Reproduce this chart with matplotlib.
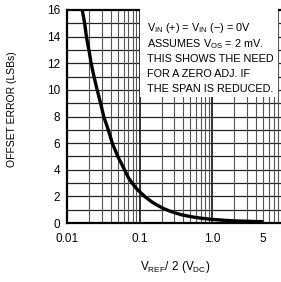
import matplotlib
matplotlib.use("Agg")
import matplotlib.pyplot as plt
from matplotlib.patches import Rectangle
import numpy as np

# Data
vref_half = [0.0162, 0.0175, 0.0185, 0.02, 0.0215, 0.0235, 0.026, 0.029, 0.032,
             0.037, 0.042, 0.05, 0.062, 0.07, 0.08, 0.09, 0.1, 0.12, 0.15,
             0.18, 0.21, 0.25, 0.3, 0.37, 0.46, 0.57, 0.7, 0.85, 1.0, 1.5,
             2.0, 3.0, 4.0, 5.0]
offset_err = [16, 15, 14, 13, 12, 11, 10, 9, 8,
              7, 6, 5, 4, 3.4, 2.95, 2.6, 2.35, 1.95, 1.55,
              1.3, 1.1, 0.93, 0.78, 0.63, 0.52, 0.43, 0.36, 0.31, 0.27, 0.2,
              0.16, 0.13, 0.11, 0.1]
xtick_vals = [0.01, 0.1, 1.0, 5]
xtick_labels = ["0.01", "0.1", "1.0", "5"]
ytick_vals = [0, 2, 4, 6, 8, 10, 12, 14, 16]
note_lines = [r"V$_{\rm IN}$ (+) = V$_{\rm IN}$ ($-$) = 0V",
              r"ASSUMES V$_{\rm OS}$ = 2 mV.",
              "THIS SHOWS THE NEED",
              "FOR A ZERO ADJ. IF",
              "THE SPAN IS REDUCED."]

plt.rcParams['font.family'] = ['Liberation Sans', 'DejaVu Sans']
plt.rcParams['mathtext.fontset'] = 'custom'
plt.rcParams['mathtext.rm'] = 'Liberation Sans'
plt.rcParams['mathtext.it'] = 'Liberation Sans'

W, H = 281, 282
fig = plt.figure(figsize=(W / 100, H / 100), dpi=100)
L, R, T, B = 67, 285, 10, 223
ax = fig.add_axes([L / W, (H - B) / H, (R - L) / W, (B - T) / H])

ax.set_xscale('log')
ax.set_xlim(0.01, 10)
ax.set_ylim(0, 16)

ax.set_yticks(ytick_vals)
ax.set_xticks(xtick_vals)
ax.set_xticklabels(xtick_labels)
ax.xaxis.set_minor_locator(matplotlib.ticker.NullLocator())

for yv in np.arange(1, 16, 1):
    ax.axhline(yv, color='#222222', lw=0.9, zorder=1)
for dec in [0.01, 0.1, 1.0]:
    for m in range(2, 10):
        ax.axvline(dec * m, color='#555555', lw=0.8, zorder=1)
for xv in [0.1, 1.0]:
    ax.axvline(xv, color='#222222', lw=1.3, zorder=1)

ax.tick_params(which='both', length=0)
ax.tick_params(axis='y', labelsize=8.5, pad=5)
ax.tick_params(axis='x', labelsize=8.5, pad=7)

for s in ['left', 'bottom', 'top']:
    ax.spines[s].set_linewidth(1.6)
ax.spines['right'].set_visible(False)

ax.plot(vref_half, offset_err, color='black', lw=2.4, zorder=3,
        solid_capstyle='butt', solid_joinstyle='round')

# note box
ax.add_patch(Rectangle(((140 - L) / (R - L), (B - 97) / (B - T)),
                       (278 - 140) / (R - L), (97 - T) / (B - T) + 0.01,
                       transform=ax.transAxes, facecolor='white',
                       edgecolor='none', zorder=4, clip_on=False))
baselines = [31, 47, 62, 77, 92]
for txt, yb in zip(note_lines, baselines):
    ax.text((147 - L) / (R - L), (B - yb) / (B - T), txt,
            transform=ax.transAxes, fontsize=7.8, ha='left', va='baseline',
            zorder=5)

ax.set_ylabel("OFFSET ERROR (LSBs)", fontsize=7.5)
ax.yaxis.set_label_coords((17 - L) / (R - L), (B - 109) / (B - T))
ax.set_xlabel(r"V$_{\rm REF}$/ 2 (V$_{\rm DC}$)", fontsize=8.5)
ax.xaxis.set_label_coords((175 - L) / (R - L), (B - 259) / (B - T))

fig.savefig("out.png", dpi=100)
